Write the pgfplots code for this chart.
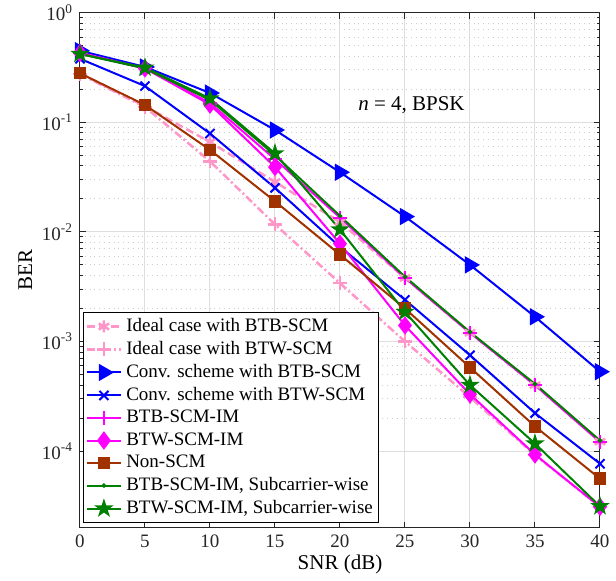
\documentclass[border=0pt]{standalone}
\usepackage{fontspec}
\setmainfont{Liberation Serif}
\usepackage{pgfplots}
\pgfplotsset{compat=1.18}
\definecolor{idealpink}{RGB}{255,150,200}
\definecolor{brownred}{RGB}{160,50,0}
\definecolor{mgreen}{RGB}{0,128,0}
\definecolor{mmag}{RGB}{255,0,255}
\definecolor{mblue}{RGB}{0,0,255}
\definecolor{gridgray}{RGB}{222,222,222}
\definecolor{axgray}{RGB}{38,38,38}

\pgfdeclareplotmark{pentagram*}{%
  \pgfpathmoveto{\pgfpointpolar{90}{\pgfplotmarksize}}%
  \pgfpathlineto{\pgfpointpolar{126}{0.382\pgfplotmarksize}}%
  \pgfpathlineto{\pgfpointpolar{162}{\pgfplotmarksize}}%
  \pgfpathlineto{\pgfpointpolar{198}{0.382\pgfplotmarksize}}%
  \pgfpathlineto{\pgfpointpolar{234}{\pgfplotmarksize}}%
  \pgfpathlineto{\pgfpointpolar{270}{0.382\pgfplotmarksize}}%
  \pgfpathlineto{\pgfpointpolar{306}{\pgfplotmarksize}}%
  \pgfpathlineto{\pgfpointpolar{342}{0.382\pgfplotmarksize}}%
  \pgfpathlineto{\pgfpointpolar{18}{\pgfplotmarksize}}%
  \pgfpathlineto{\pgfpointpolar{54}{0.382\pgfplotmarksize}}%
  \pgfpathclose
  \pgfusepathqfillstroke}

\pgfplotstableread{
x    ibtb     ibtw     cbtb    cbtw      btbim    btwim    non      btbsub   btwsub
0    0.28     0.275    0.45    0.38      0.43     0.43     0.28     0.42     0.42
5    0.14     0.138    0.32    0.214     0.31     0.31     0.144    0.31     0.315
10   0.066    0.044    0.185   0.079     0.15     0.145    0.056    0.16     0.165
15   0.0286   0.0117   0.085   0.0252    0.046    0.039    0.019    0.05     0.052
20   0.0123   0.0034   0.035   0.0073    0.0135   0.0078   0.0062   0.014    0.0105
25   0.0038   0.0010   0.0138  0.0024    0.0038   0.0014   0.0020   0.0039   0.00186
30   0.0012   0.00031  0.0050  0.00075   0.0012   0.00033  0.00058  0.00122  0.00040
35   0.0004   0.000092 0.00168 0.000222  0.0004   0.000093 0.000168 0.00041  0.000117
40   0.000122 0.000031 0.00053 0.0000767 0.000121 0.000031 0.000056 0.000125 0.0000313
}\data

\begin{document}
\begin{tikzpicture}
\begin{axis}[
  scale only axis, width=260pt, height=257.5pt,
  ymode=log, xmin=0, xmax=40, ymin=2e-5, ymax=1,
  xtick={0,5,...,40},
  xticklabels={0,5,10,15,20,25,30,35,40},
  ytick={1e-4,1e-3,1e-2,1e-1,1},
  yticklabels={10\textsuperscript{-4},10\textsuperscript{-3},10\textsuperscript{-2},10\textsuperscript{-1},10\textsuperscript{0}},
  tick label style={font=\fontsize{9.5}{11}\selectfont, text=axgray},
  label style={font=\fontsize{10.5}{12}\selectfont},
  xlabel={SNR (dB)}, ylabel={BER},
  xlabel style={yshift=3pt},
  ylabel style={yshift=-2pt},
  grid=both,
  major grid style={gridgray, line width=0.5pt},
  minor grid style={gray!40, dotted, line width=0.5pt},
  axis line style={axgray, line width=0.5pt},
  tick style={axgray, line width=0.5pt},
  major tick length=3pt, minor tick length=1.5pt,
  tick align=inside,
  legend style={at={(0.006,0.419)}, anchor=north west, draw=black, fill=white,
    font=\fontsize{9.5}{11}\selectfont, inner sep=1pt, row sep=-0.6pt,
    line width=0.5pt},
  legend cell align=left,
  every axis plot/.append style={line width=1pt},
]
\coordinate (sw) at (rel axis cs:0,0);
\coordinate (ne) at (rel axis cs:1,1);

\addplot[idealpink, line width=1.25pt, dash pattern=on 4pt off 2pt, mark=asterisk, mark size=3pt, mark options={solid}] table[x=x,y=ibtb]{\data};
\addlegendentry{Ideal case with BTB-SCM}
\addplot[idealpink, line width=1.25pt, dash pattern=on 4pt off 1.5pt on 1pt off 1.5pt, mark=+, mark size=3.5pt, mark options={solid}] table[x=x,y=ibtw]{\data};
\addlegendentry{Ideal case with BTW-SCM}
\addplot[mblue, mark=triangle*, mark size=4pt, mark options={solid, rotate=-90}] table[x=x,y=cbtb]{\data};
\addlegendentry{Conv. scheme with BTB-SCM}
\addplot[mblue, mark=x, mark size=3.2pt, mark options={solid}] table[x=x,y=cbtw]{\data};
\addlegendentry{Conv. scheme with BTW-SCM}
\addplot[mmag, mark=+, mark size=3.5pt, mark options={solid}] table[x=x,y=btbim]{\data};
\addlegendentry{BTB-SCM-IM}
\addplot[mmag, mark=diamond*, mark size=3.8pt, mark options={solid}] table[x=x,y=btwim]{\data};
\addlegendentry{BTW-SCM-IM}
\addplot[brownred, mark=square*, mark size=2.6pt, mark options={solid}] table[x=x,y=non]{\data};
\addlegendentry{Non-SCM}
\addplot[mgreen, mark=*, mark size=0.6pt, mark options={solid}] table[x=x,y=btbsub]{\data};
\addlegendentry{BTB-SCM-IM, Subcarrier-wise}
\addplot[mgreen, mark=pentagram*, mark size=3.5pt, mark options={solid}] table[x=x,y=btwsub]{\data};
\addlegendentry{BTW-SCM-IM, Subcarrier-wise}

\node[font=\fontsize{10.5}{12}\selectfont] at (axis cs:25.5,0.1436) {\textit{n} = 4, BPSK};
\end{axis}
\pgfresetboundingbox
\path[use as bounding box] ([shift={(-40pt,-26.5pt)}]sw) rectangle ([shift={(8pt,6.35pt)}]ne);
\end{tikzpicture}
\end{document}
